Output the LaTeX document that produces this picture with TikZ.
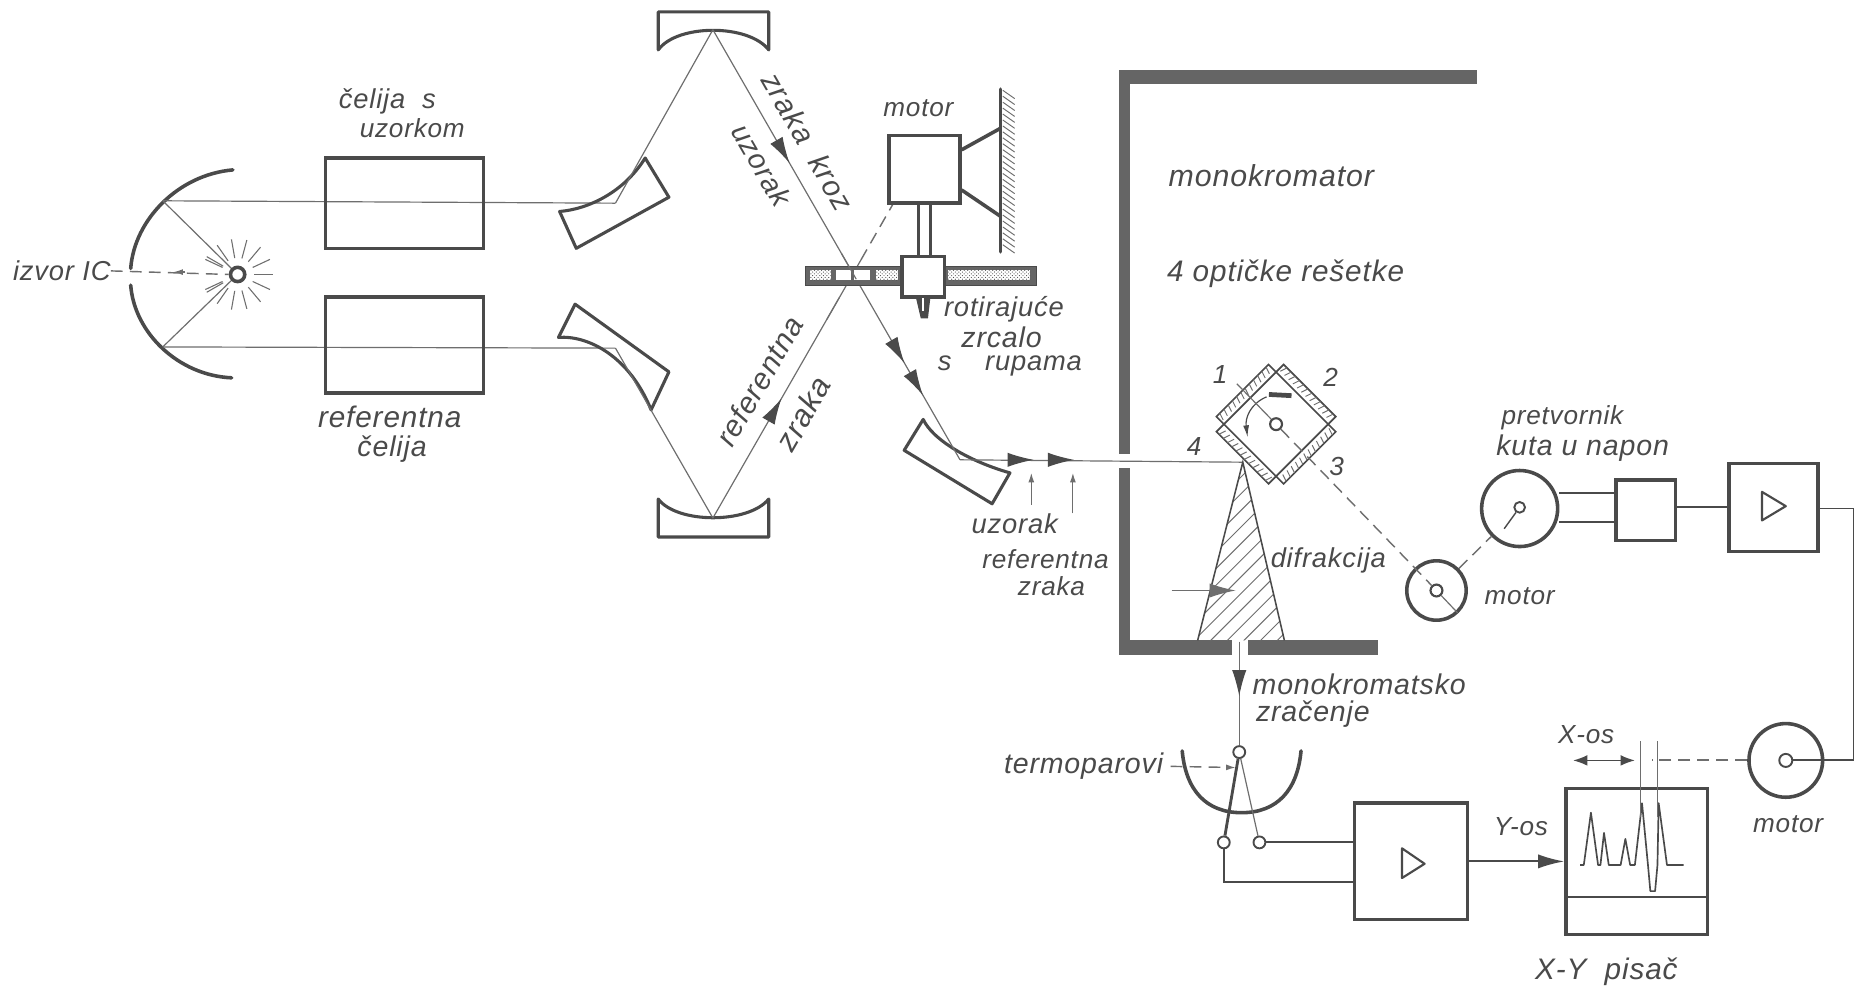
\documentclass[tikz,border=0pt]{standalone}
\usepackage{fontspec}
\setmainfont{Liberation Sans}[LetterSpace=3]
\usetikzlibrary{arrows.meta,calc,patterns}
\definecolor{ink}{HTML}{4A4A4A}
\definecolor{soft}{HTML}{6E6E6E}
\tikzset{
  lbl/.style={font=\fontsize{22}{26}\selectfont\itshape,text=ink,inner sep=0pt,align=center},
  fs/.style={font=\fontsize{#1}{#1}\selectfont\itshape},
  heavy/.style={draw=ink,line width=3pt,line cap=round,line join=round},
  boxy/.style={draw=ink,line width=3pt,fill=none,inner sep=0pt,rectangle},
  ray/.style={draw=soft,line width=1pt},
  wire/.style={draw=ink,line width=1.6pt},
  wall/.style={fill=ink!85!white,draw=none},
  dashy/.style={draw=soft,line width=1.2pt,dash pattern=on 10pt off 6pt},
  beamtip/.style={draw=ink,line width=1pt,-{Latex[length=22pt,width=12pt]}},
  smalltip/.style={draw=soft,line width=1pt,-{Latex[length=8pt,width=5pt]}},
  ringy/.style={circle,draw=ink,line width=3pt,fill=none,inner sep=0pt},
  pin/.style={circle,draw=ink,line width=1.6pt,fill=white,inner sep=0pt,minimum size=10pt},
}
\begin{document}
\begin{tikzpicture}[x=1pt,y=-1pt]
\useasboundingbox[fill=white] (0,0) rectangle (1568,832);

% --- named junctions of the optical path
\coordinate (lamp) at (200,231);
\coordinate (sTop) at (137,169);
\coordinate (sBot) at (137,292);
\coordinate (m1) at (518,171);
\coordinate (m2) at (518,293);
\coordinate (t1) at (600,25);
\coordinate (t2) at (600,436);
\coordinate (m3) at (808,387);
\coordinate (gr) at (1074,357);
\coordinate (apex) at (1046,389);

% source mirror
\draw[heavy] (196,143) .. controls (150,147) and (113,185) .. (110,226);
\draw[heavy] (110,240) .. controls (113,280) and (150,316) .. (195,318);
\draw[ray] (sTop) -- (m1);
\draw[ray] (sBot) -- (m2);
\draw[ray] (sTop) -- (lamp);
\draw[ray] (sBot) -- (lamp);
% lamp
\foreach \a in {-150,-125,-100,-75,-50,-25,0,25,50,75,100,125,150,205,155}
  \draw[soft,line width=.9pt] ($(lamp)+(\a:14)$) -- ($(lamp)+(\a:30)$);
\node[circle,draw=ink,line width=3pt,fill=white,minimum size=12pt,inner sep=0pt] (lampn) at (lamp) {};
\node[lbl,fs=23] (izvor) at (52,228) {izvor IC};
\draw[dashy] (izvor.east) -- (lampn.west);
\coordinate (lt) at (146,229);
\draw[smalltip] (156,229) -- (lt);

% cells
\node[boxy,minimum width=133pt,minimum height=76pt] (cell1) at (340.5,171) {};
\node[boxy,minimum width=133pt,minimum height=81pt] (cell2) at (340.5,290.5) {};
\node[lbl,fs=23] (c1a) at (326,85) {čelija\ \ s};
\node[lbl] (c1b) at (347,108) {uzorkom};
\node[lbl,fs=25] (c2a) at (328,351) {referentna};
\node[lbl,fs=24] (c2b) at (330,378) {čelija};

% folding mirrors
\draw[heavy,line width=2.6pt] (471,178) .. controls (495,176) and (525,162) .. (543,133) -- (563,166) -- (485,209) -- cycle;
\draw[heavy,line width=2.6pt] (470,284) .. controls (495,282) and (530,300) .. (548,345) -- (563,313) -- (484,256) -- cycle;
\draw[heavy,line width=2.6pt] (554,10) -- (647,10) -- (647,42) .. controls (630,20) and (570,20) .. (554,42) -- cycle;
\draw[heavy,line width=2.6pt] (554,452) -- (647,452) -- (647,420) .. controls (630,441) and (570,441) .. (554,420) -- cycle;
\draw[heavy,line width=2.6pt] (777,353) .. controls (785,370) and (815,388) .. (850,398) -- (835,424) -- (761,379) -- cycle;

% rays between mirrors
\draw[ray] (m1) -- (t1);
\draw[ray] (m2) -- (t2);
\draw[ray] (t1) -- (m3);
\coordinate (dashEnd) at (752,171);
\draw[ray] (t2) -- ($(t2)!0.82!(dashEnd)$);
\draw[dashy] ($(t2)!0.82!(dashEnd)$) -- (dashEnd);
\draw[beamtip] ($(t1)!0.30!(m3)$) -- ($(t1)!0.31!(m3)$);
\draw[beamtip] ($(t1)!0.765!(m3)$) -- ($(t1)!0.775!(m3)$);
\draw[beamtip] ($(t1)!0.84!(m3)$) -- ($(t1)!0.85!(m3)$);
\draw[beamtip] ($(t2)!0.37!(dashEnd)$) -- ($(t2)!0.38!(dashEnd)$);

\node[lbl,rotate=-60,fs=25] (zk) at (680,119) {zraka\ \ kroz};
\node[lbl,rotate=-60,fs=24] (uz1) at (641,139) {uzorak};
\node[lbl,rotate=60,fs=25] (rf1) at (639,321) {referentna};
\node[lbl,rotate=60,fs=26] (zr1) at (676,348) {zraka};

% chopper
\node[boxy,minimum width=60pt,minimum height=57pt,fill=white] (mot1) at (778,142.5) {};
\node[lbl] (mot1t) at (773,91) {motor};
\draw[wire,line width=2pt] (773,171) -- (773,216);
\draw[wire,line width=2pt] (783,171) -- (783,216);
\draw[ink,fill=ink!85!white] (678,224) rectangle (872,240);
\foreach \a/\b in {682/699,737/756,798/867}
  \fill[white] (\a,227) rectangle (\b,236);
\foreach \a/\b in {682/699,737/756,798/867}
  \fill[pattern=crosshatch dots,pattern color=ink] (\a,227) rectangle (\b,236);
\fill[white] (704,227) rectangle (716,236);
\fill[white] (719,227) rectangle (732,236);
\node[boxy,minimum width=36pt,minimum height=34pt,fill=white] (hub) at (777,233) {};
\fill[ink] (771,251) -- (783,251) -- (781,268) -- (775,268) -- cycle;
\fill[white] (776,251) -- (778,251) -- (778,262) -- (776,262) -- cycle;
\coordinate (wallA) at (842,75);
\coordinate (wallB) at (842,212);
\draw[heavy] (wallA) -- (wallB);
\foreach \y in {76,81,...,206}
  \draw[soft,line width=.8pt] (844,\y) -- (854,\y+7);
\draw[heavy] (mot1.east |- 0,126) -- (842,108);
\draw[heavy] (mot1.east |- 0,160) -- (842,182);
\draw[ray] ($(t1)!0.52!(m3)$) -- ($(t1)!0.58!(m3)$);
\draw[ray] ($(t2)!0.63!(dashEnd)$) -- ($(t2)!0.70!(dashEnd)$);
\node[lbl,fs=23] (rz1) at (845,260) {rotirajuće};
\node[lbl,fs=24] (rz2) at (843,284) {zrcalo};
\node[lbl,fs=23] (rz3) at (850,308) {s\ \ \ \ rupama};

% monochromator housing
\fill[wall] (942,59) rectangle (1243,71);
\fill[wall] (942,59) rectangle (951,382);
\fill[wall] (942,394) rectangle (951,550);
\fill[wall] (942,539) rectangle (1037,551);
\fill[wall] (1050,539) rectangle (1160,551);
\node[lbl,fs=25.5] (mk) at (1070,148) {monokromator};
\node[lbl,fs=25] (op) at (1082,230) {4 optičke rešetke};

% beam into monochromator
\draw[ray] (m3) -- (apex);
\draw[beamtip] (858,387) -- (870,387);
\draw[beamtip] (892,387) -- (904,387);
\draw[smalltip] (868,425) -- (868,398);
\draw[smalltip] (903,432) -- (903,398);
\node[lbl,fs=23] (uz2) at (854,441) {uzorak};
\node[lbl] (rf2) at (880,471) {referentna};
\node[lbl] (zr2) at (885,493) {zraka};

% diffraction wedge
\begin{scope}
\clip (apex) -- (1081,539) -- (1008,539) -- cycle;
\foreach \k in {850,864,...,1090}
  \draw[soft,line width=.8pt] (\k,540) -- (\k+150,390);
\end{scope}
\draw[ink,line width=1.3pt] (1008,539) -- (apex) -- (1081,539);
\draw[beamtip,soft] (986,497) -- (1040,497);
\node[lbl,fs=23] (df) at (1118,472) {difrakcija};

% gratings
\begin{scope}[shift={(gr)},rotate=45]
\foreach \r in {0,90,180,270}{
  \begin{scope}[rotate=\r]
    \draw[ink,line width=1.4pt] (31,-31) rectangle (40,31);
    \foreach \v in {-29,-24,...,29}
      \draw[soft,line width=.8pt] (34,\v) -- (40,\v+2);
  \end{scope}
}
\end{scope}
\node[circle,draw=ink,line width=1.8pt,inner sep=0pt,minimum size=10pt] (grc) at (gr) {};
\draw[ink,line width=4pt] (1068,332) -- (1087,333);
\draw[ink,line width=1pt,-{Latex[length=10pt,width=5pt]}] (1066,334) .. controls (1052,340) and (1048,352) .. (1050,368);
\draw[ray] (1041,323) -- (grc);
\node[lbl] (n1) at (1027,315) {1};
\node[lbl] (n2) at (1120,318) {2};
\node[lbl] (n3) at (1125,393) {3};
\node[lbl] (n4) at (1005,376) {4};

% grating drive
\node[ringy,minimum size=50pt] (mot2) at (1209,497) {};
\node[circle,draw=ink,line width=1.8pt,inner sep=0pt,minimum size=10pt] (mot2c) at (1209,497) {};
\node[lbl] (mot2t) at (1279,502) {motor};
\draw[dashy] (grc) -- (mot2c);
\draw[ray] (mot2c) -- (1227,516);
\node[ringy,minimum size=64pt] (conv) at (1279,428) {};
\node[circle,draw=ink,line width=1.6pt,inner sep=0pt,minimum size=9pt] (convc) at (1279,427) {};
\draw[ink,line width=1.2pt] (convc) -- (1266,445);
\draw[dashy] (mot2) -- (conv);
\node[lbl] (cv1) at (1315,352) {pretvornik};
\node[lbl,fs=24] (cv2) at (1332,377) {kuta u napon};
\node[boxy,minimum width=50pt,minimum height=51pt] (bx) at (1385,429.5) {};
\node[boxy,minimum width=75pt,minimum height=74pt] (amp2) at (1492.5,427) {};
\draw[ink,line width=1.8pt,line join=round] (1483,414) -- (1503,426) -- (1483,438) -- cycle;
\draw[wire] (conv.east |- 0,415) -- (bx.west |- 0,415);
\draw[wire] (conv.east |- 0,439) -- (bx.west |- 0,439);
\draw[wire] (bx.east |- amp2.west) -- (amp2.west);

% recorder drive
\node[ringy,minimum size=62pt] (mot3) at (1503,640) {};
\node[circle,draw=ink,line width=1.6pt,fill=white,inner sep=0pt,minimum size=11pt] (mot3c) at (1503,640) {};
\node[lbl] (mot3t) at (1505,694) {motor};
\coordinate (turn1) at (1560,640);
\coordinate (turn2) at (1560,428);
\draw[wire] (mot3c) -- (turn1) -- (turn2) -- (amp2.east |- turn2);
\coordinate (penB) at (1390,640);
\draw[dashy,line width=1.6pt] (mot3) -- (penB);

% exit beam & detector
\coordinate (exitTop) at (1043,540);
\node[pin] (tc) at (1043,633) {};
\draw[ray] (exitTop) -- (tc);
\draw[beamtip] (1043,570) -- (1043,586);
\draw[heavy] (995,632) .. controls (998,665) and (1015,684) .. (1045,684) .. controls (1075,684) and (1092,665) .. (1095,632);
\node[pin] (tl) at (1030,709) {};
\node[pin] (tr) at (1060,709) {};
\draw[wire,line width=2.4pt] (tc) -- (tl);
\draw[ray] (tc) -- (tr);
\node[lbl,fs=24] (tm) at (912,645) {termoparovi};
\coordinate (tmT) at (1040,646);
\draw[dashy,-{Latex[length=8pt,width=5pt]}] (tm.east) ++(6,0) -- (tmT);
\node[lbl,fs=24] (mz1) at (1144,576) {monokromatsko};
\node[lbl,fs=24] (mz2) at (1105,601) {zračenje};

\node[boxy,minimum width=95pt,minimum height=98pt] (amp1) at (1187.5,725) {};
\draw[ink,line width=1.8pt,line join=round] (1180,714) -- (1199,727) -- (1180,739) -- cycle;
\draw[wire] (tr) -- (amp1.west |- tr);
\coordinate (lowturn) at (1030,742);
\draw[wire] (tl) -- (lowturn) -- (amp1.west |- lowturn);

% recorder
\node[boxy,minimum width=119pt,minimum height=123pt] (rec) at (1377.5,725) {};
\coordinate (recLineL) at (1318,755);
\coordinate (recLineR) at (1437,755);
\draw[wire] (recLineL) -- (recLineR);
\draw[beamtip,line width=1.6pt] (amp1.east |- rec.west) -- (rec.west);
\draw[ink,line width=1.4pt,line join=round] (1330,728) -- (1333,728) -- (1339,684) -- (1345,728) -- (1347,728) -- (1350,701) -- (1354,728) -- (1364,728) -- (1368,706) -- (1372,728) -- (1376,728) -- (1382,676) -- (1387,728) -- (1389,750) -- (1393,750) -- (1395,728) -- (1396,676) -- (1403,728) -- (1417,728);
\draw[soft,line width=1pt] (1381,624) -- (1381,688);
\draw[soft,line width=1pt] (1395,624) -- (1395,688);
\draw[draw=ink,line width=1.2pt,{Latex[length=12pt,width=9pt]}-{Latex[length=12pt,width=9pt]}] (1324,640) -- (1376,640);
\node[lbl] (xos) at (1335,618) {X-os};
\node[lbl] (yos) at (1280,696) {Y-os};
\node[lbl,fs=25] (pis) at (1352,818) {X-Y\ \ pisač};
\end{tikzpicture}
\end{document}
